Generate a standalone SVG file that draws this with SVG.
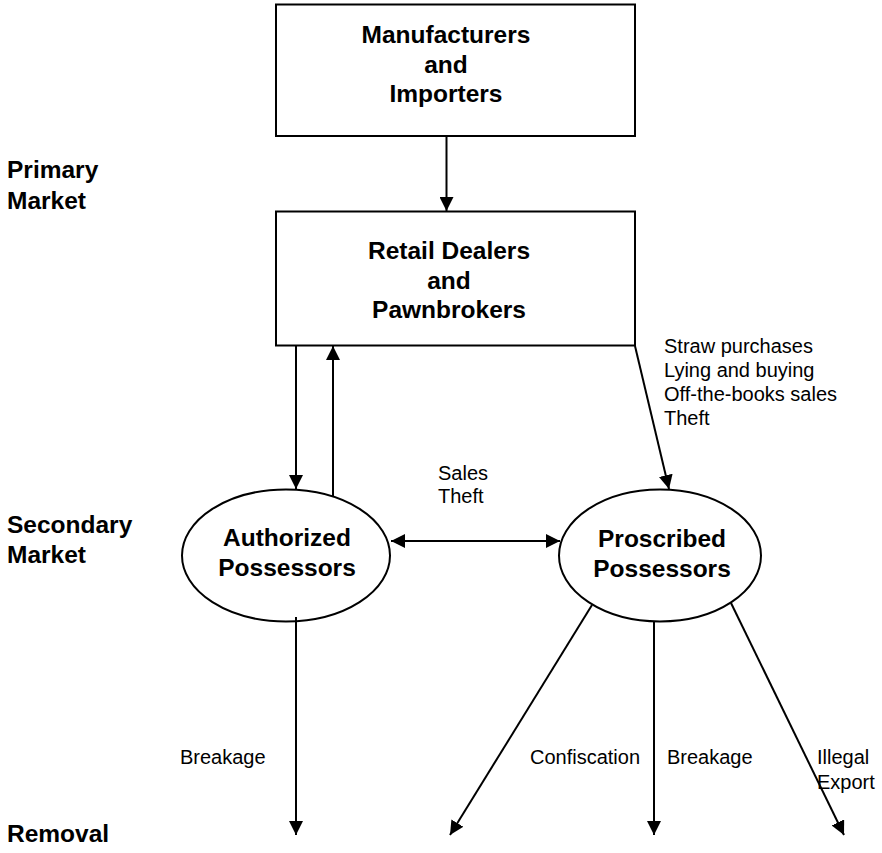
<svg xmlns="http://www.w3.org/2000/svg" width="882" height="853" viewBox="0 0 882 853">
<style>
.node{fill:#fff;stroke:#000;stroke-width:2}
.b{font-family:"Liberation Sans",Arial,sans-serif;font-weight:bold;font-size:24.5px;fill:#000}
.c{text-anchor:middle}
.l{font-family:"Liberation Sans",Arial,sans-serif;font-size:20px;fill:#000}
.e{stroke:#000;stroke-width:2;fill:none;marker-end:url(#ah)}
</style>
<defs>
<marker id="ah" viewBox="0 0 14 14" refX="14" refY="7" markerWidth="14" markerHeight="14" orient="auto-start-reverse" markerUnits="userSpaceOnUse">
<path d="M0,0 L14,7 L0,14 z" fill="#000"/>
</marker>
</defs>
<rect width="882" height="853" fill="#fff"/>
<g id="tiers">
<text class="b" x="7" y="178">Primary</text>
<text class="b" x="7" y="209">Market</text>
<text class="b" x="7" y="533">Secondary</text>
<text class="b" x="7" y="563">Market</text>
<text class="b" x="7" y="842">Removal</text>
</g>
<g id="manufacturers">
<rect class="node" x="276" y="4.5" width="359" height="131.5"/>
<text class="b c" x="446" y="43">Manufacturers</text>
<text class="b c" x="446" y="73">and</text>
<text class="b c" x="446" y="102">Importers</text>
</g>
<g id="retail">
<rect class="node" x="276" y="211.5" width="359" height="134"/>
<text class="b c" x="449" y="259">Retail Dealers</text>
<text class="b c" x="449" y="289">and</text>
<text class="b c" x="449" y="318">Pawnbrokers</text>
</g>
<g id="authorized">
<ellipse class="node" cx="286" cy="555.5" rx="104" ry="66"/>
<text class="b c" x="287" y="546">Authorized</text>
<text class="b c" x="287" y="576">Possessors</text>
</g>
<g id="proscribed">
<ellipse class="node" cx="660" cy="555.5" rx="101" ry="66"/>
<text class="b c" x="662" y="547">Proscribed</text>
<text class="b c" x="662" y="577">Possessors</text>
</g>
<g id="connectors">
<line class="e" x1="446.5" y1="136" x2="446.5" y2="211"/>
<line class="e" x1="296" y1="346" x2="296" y2="489"/>
<line class="e" x1="333" y1="496" x2="333" y2="346"/>
<line class="e" x1="635" y1="346" x2="669" y2="489"/>
<line class="e" x1="391" y1="541" x2="560" y2="541" style="marker-start:url(#ah)"/>
<line class="e" x1="296" y1="617" x2="296" y2="835"/>
<line class="e" x1="592" y1="605" x2="450" y2="835"/>
<line class="e" x1="654" y1="621" x2="654" y2="835"/>
<line class="e" x1="731" y1="603" x2="844" y2="835"/>
</g>
<g id="labels">
<text class="l" x="664" y="353">Straw purchases</text>
<text class="l" x="664" y="377">Lying and buying</text>
<text class="l" x="664" y="401">Off-the-books sales</text>
<text class="l" x="664" y="425">Theft</text>
<text class="l" x="438" y="480">Sales</text>
<text class="l" x="438" y="503">Theft</text>
<text class="l" x="180" y="764">Breakage</text>
<text class="l" x="530" y="764">Confiscation</text>
<text class="l" x="667" y="764">Breakage</text>
<text class="l" x="817" y="764">Illegal</text>
<text class="l" x="817" y="789">Export</text>
</g>
</svg>
